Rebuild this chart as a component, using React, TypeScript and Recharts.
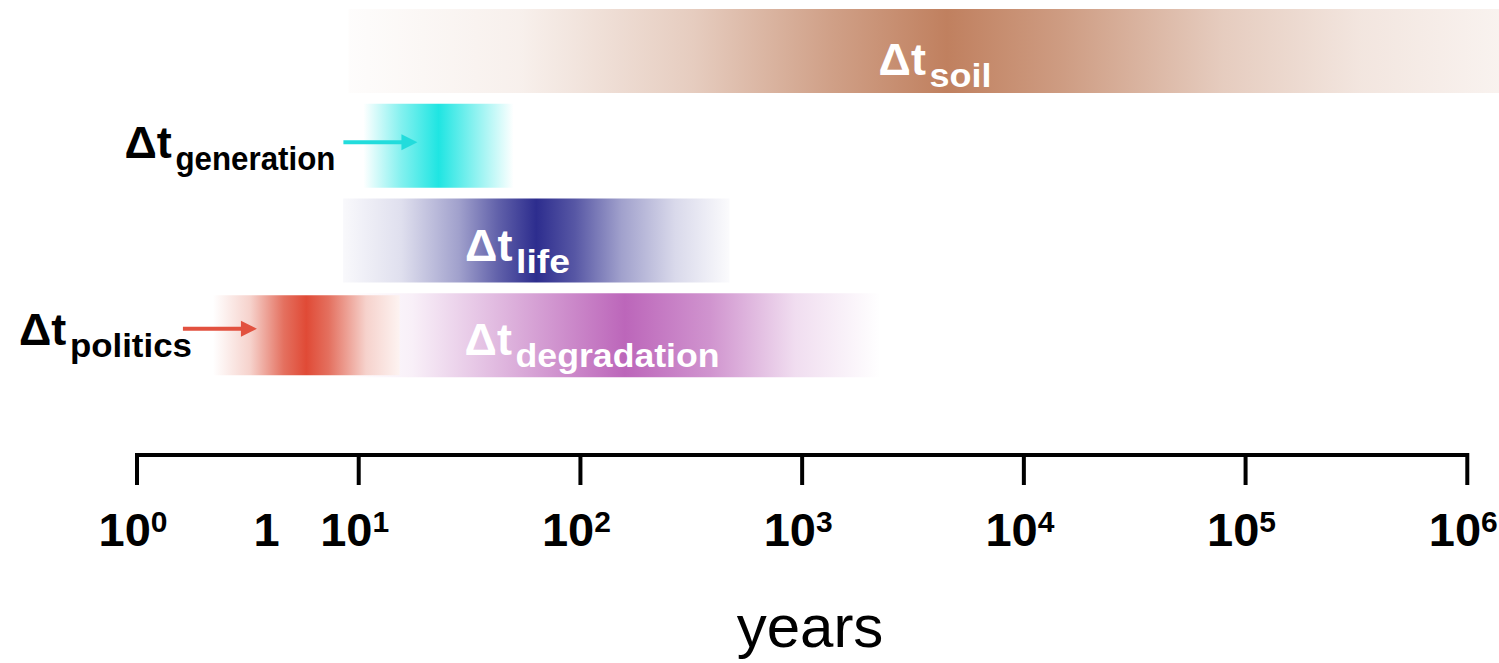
import { BarChart, Bar, XAxis, YAxis, Cell, LabelList, ReferenceLine, Label } from 'recharts';

// rows from top to bottom, spans in years
const rows = ['soil', 'generation', 'life', 'degradation'];
const fromYears = [9, 10.5, 8.5, 9];
const toYears = [1.39e6, 50, 470, 2250];
const politicsYears = [2.2, 15.3];

const tickValues = [1, 4, 10, 100, 1000, 10000, 100000, 1000000];
const tickBases = ['10', '1', '10', '10', '10', '10', '10', '10'];
const tickExps = ['0', '', '1', '2', '3', '4', '5', '6'];

const data = rows.map((row, i) => ({
  row,
  span: [fromYears[i], toYears[i]],
  politics: row === 'degradation' ? politicsYears : null,
}));

const FONT = '"Liberation Sans", Arial, Helvetica, sans-serif';

// [offset, color, opacity]
const GRADIENTS: Record<string, [number, string, number][]> = {
  soil: [
    [0, '#c0805f', 0.02],
    [0.15, '#c0805f', 0.12],
    [0.3, '#c0805f', 0.4],
    [0.42, '#c0805f', 0.75],
    [0.52, '#c0805f', 1],
    [0.62, '#c0805f', 0.78],
    [0.76, '#c0805f', 0.4],
    [0.88, '#c0805f', 0.2],
    [1, '#c0805f', 0.1],
  ],
  generation: [
    [0, '#1fe5e2', 0],
    [0.25, '#1fe5e2', 0.55],
    [0.5, '#1fe5e2', 1],
    [0.75, '#1fe5e2', 0.5],
    [1, '#1fe5e2', 0],
  ],
  life: [
    [0, '#2d2d8e', 0.03],
    [0.15, '#2d2d8e', 0.15],
    [0.3, '#2d2d8e', 0.45],
    [0.4, '#2d2d8e', 0.75],
    [0.5, '#2d2d8e', 1],
    [0.6, '#2d2d8e', 0.8],
    [0.72, '#2d2d8e', 0.45],
    [0.86, '#2d2d8e', 0.18],
    [1, '#2d2d8e', 0.02],
  ],
  degradation: [
    [0, '#bc66ba', 0],
    [0.12, '#bc66ba', 0.1],
    [0.3, '#bc66ba', 0.5],
    [0.52, '#bc66ba', 1],
    [0.68, '#bc66ba', 0.7],
    [0.84, '#bc66ba', 0.22],
    [1, '#bc66ba', 0],
  ],
  politics: [
    [0, '#ffffff', 1],
    [0.2, '#f6d2cc', 1],
    [0.38, '#e4705f', 1],
    [0.5, '#e04a36', 1],
    [0.62, '#e4705f', 1],
    [0.82, '#f6d2cc', 1],
    [1, '#fdf3f1', 1],
  ],
};

type Tag = {
  sub: string;
  inside: boolean;
  dx?: number;
  gap?: number;
  dy: number;
  len: number;
  arrow?: string;
  a0?: number;
  a1?: number;
  ay?: number;
};

const TAGS: Record<string, Tag> = {
  soil: { sub: 'soil', inside: true, dx: 531, dy: 23.5, len: 62 },
  generation: { sub: 'generation', inside: false, gap: 28, dy: 12.5, len: 160, arrow: '#22dcdc', a0: -20, a1: 54, ay: -3.5 },
  life: { sub: 'life', inside: true, dx: 123, dy: 20, len: 54 },
  degradation: { sub: 'degradation', inside: true, dx: 117, dy: 20, len: 204 },
  politics: { sub: 'politics', inside: false, gap: 21, dy: 9.5, len: 122, arrow: '#e2513f', a0: -30, a1: 44, ay: -6.5 },
};

function renderTag(props: any, name: string) {
  const { x, y, width, height } = props;
  const tag = TAGS[name];
  if (!tag || width == null || width <= 0) return null;
  const cy = y + height / 2;
  const base = cy + tag.dy;
  let subStart: number;
  if (tag.inside) {
    subStart = x + (tag.dx as number) + 50;
  } else {
    subStart = x - (tag.gap as number) - tag.len;
  }
  const color = tag.inside ? '#ffffff' : '#000000';
  let arrow = null;
  if (tag.arrow) {
    const ay = cy + (tag.ay as number);
    const tip = x + (tag.a1 as number);
    arrow = (
      <g>
        <line x1={x + (tag.a0 as number)} x2={tip - 12} y1={ay} y2={ay} stroke={tag.arrow} strokeWidth={4} />
        <polygon points={`${tip},${ay} ${tip - 16},${ay - 8} ${tip - 16},${ay + 8}`} fill={tag.arrow} />
      </g>
    );
  }
  return (
    <g>
      {arrow}
      <text x={subStart - 51} y={base} fill={color} fontFamily={FONT} fontWeight="bold" fontSize={45}>
        Δt
      </text>
      <text
        x={subStart}
        y={base + 12}
        fill={color}
        fontFamily={FONT}
        fontWeight="bold"
        fontSize={33}
        textLength={tag.len}
        lengthAdjust="spacingAndGlyphs"
      >
        {tag.sub}
      </text>
    </g>
  );
}

function DecadeTick(props: any) {
  const { x, y, payload } = props;
  const i = tickValues.indexOf(payload.value);
  if (i < 0) return null;
  const exp = tickExps[i];
  return (
    <g>
      {exp !== '' && <line x1={x} x2={x} y1={y - 2} y2={y + 30} stroke="#000" strokeWidth={4} />}
      <text x={x - 4} y={y + 91} textAnchor="middle" fill="#000" fontFamily={FONT} fontWeight="bold" fontSize={47}>
        {tickBases[i]}
        {exp !== '' && (
          <tspan dy={-14} fontSize={30}>
            {exp}
          </tspan>
        )}
      </text>
    </g>
  );
}

export default function App() {
  return (
    <div style={{ width: 1499, height: 663, background: '#fff' }}>
      <style>{'body{margin:0}'}</style>
      <BarChart
        width={1499}
        height={663}
        data={data}
        layout="vertical"
        margin={{ top: 4, right: 0, left: 137, bottom: 178 }}
      >
        <defs>
          {Object.keys(GRADIENTS).map((k) => (
            <linearGradient key={k} id={`g-${k}`} x1="0" y1="0" x2="1" y2="0">
              {GRADIENTS[k].map(([o, c, a], j) => (
                <stop key={j} offset={o} stopColor={c} stopOpacity={a} />
              ))}
            </linearGradient>
          ))}
        </defs>
        <XAxis
          type="number"
          scale="log"
          domain={[1, 'dataMax']}
          ticks={tickValues}
          interval={0}
          axisLine={false}
          tickLine={false}
          tickSize={0}
          tickMargin={0}
          height={30}
          tick={<DecadeTick />}
        >
          <Label
            value="years"
            position="bottom"
            offset={119}
            dx={-8}
            style={{ fontFamily: FONT, fontSize: 60, fill: '#000' }}
          />
        </XAxis>
        <YAxis yAxisId="a" type="category" dataKey="row" hide padding={{ top: 0, bottom: 72 }} />
        <YAxis yAxisId="b" type="category" dataKey="row" hide padding={{ top: 0, bottom: 72 }} />
        <YAxis yAxisId="num" type="number" domain={[0, 1]} reversed hide />
        <ReferenceLine
          yAxisId="num"
          segment={[
            { x: 1, y: 0 },
            { x: 1000000, y: 0 },
          ]}
          stroke="#000"
          strokeWidth={4}
          ifOverflow="visible"
        />
        <Bar dataKey="span" yAxisId="a" barSize={84} isAnimationActive={false}>
          {data.map((d) => (
            <Cell key={d.row} fill={`url(#g-${d.row})`} />
          ))}
          <LabelList dataKey="row" content={(p: any) => renderTag(p, p.value)} />
        </Bar>
        <Bar dataKey="politics" yAxisId="b" barSize={80} fill="url(#g-politics)" isAnimationActive={false}>
          <LabelList
            dataKey="politics"
            content={(p: any) => (Array.isArray(p.value) ? renderTag(p, 'politics') : null)}
          />
        </Bar>
      </BarChart>
    </div>
  );
}
